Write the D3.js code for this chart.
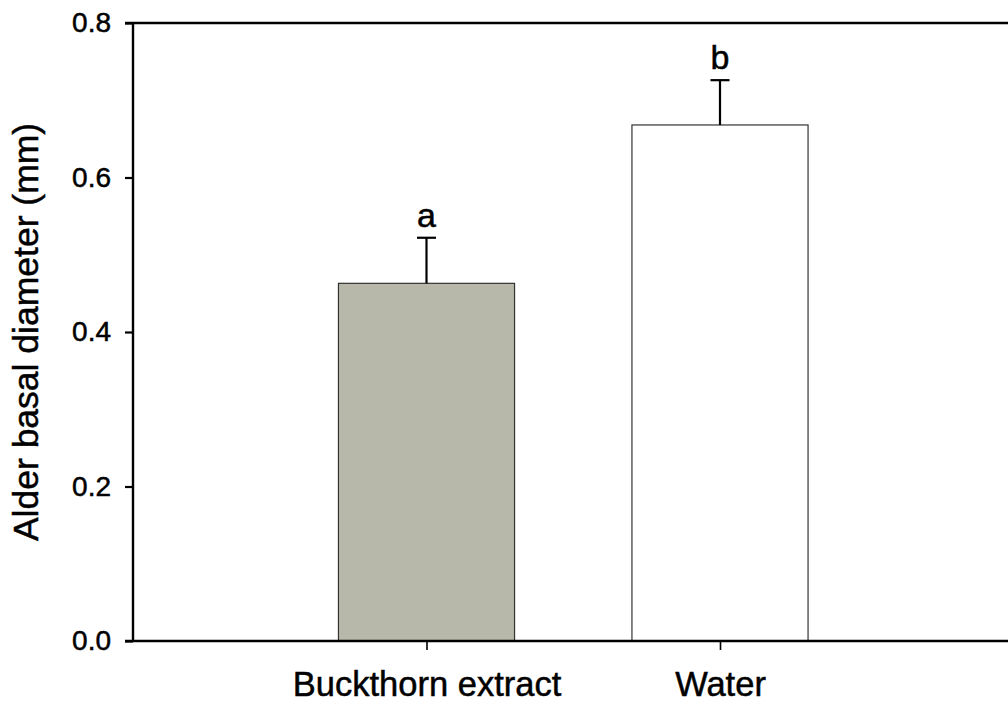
<!DOCTYPE html>
<html>
<head>
<meta charset="utf-8">
<script src="https://cdn.jsdelivr.net/npm/d3@7"></script>
<style>
  html, body { margin: 0; padding: 0; background: #fff; }
  svg { display: block; font-family: "Liberation Sans", Arial, sans-serif; }
  text { stroke: #000; stroke-width: 0.5px; fill: #000; }
</style>
</head>
<body>
<svg id="chart" width="1008" height="705"></svg>
<script>
// Treatments and mean alder basal diameter (mm) with the upper error bar
const categories = ["Buckthorn extract", "Water"];
const means = [0.463, 0.668];
const errors = [0.059, 0.058];
const letters = ["a", "b"];
const fills = ["#b8b8aa", "#ffffff"];
const yTicks = [0.0, 0.2, 0.4, 0.6, 0.8];

const svg = d3.select("#chart");
const plotLeft = 133, plotRight = 1013.5, plotTop = 23, plotBottom = 641;

const x = d3.scalePoint().domain(categories).range([plotLeft, plotRight]).padding(1);
const y = d3.scaleLinear().domain([0, 0.8]).range([plotBottom, plotTop]);
const barW = x.step() * 0.6;

// Bars
svg.selectAll("rect.bar")
  .data(categories)
  .join("rect")
  .attr("class", "bar")
  .attr("x", d => x(d) - barW / 2)
  .attr("y", (d, i) => y(means[i]))
  .attr("width", barW)
  .attr("height", (d, i) => y(0) - y(means[i]))
  .attr("fill", (d, i) => fills[i])
  .attr("stroke", "#333")
  .attr("stroke-width", 1.2);

// Upper error bars
const eb = svg.selectAll("g.err").data(categories).join("g").attr("class", "err");
eb.append("line")
  .attr("x1", d => x(d)).attr("x2", d => x(d))
  .attr("y1", (d, i) => y(means[i]))
  .attr("y2", (d, i) => y(means[i] + errors[i]))
  .attr("stroke", "#000").attr("stroke-width", 2.2);
eb.append("line")
  .attr("x1", d => x(d) - 9.5).attr("x2", d => x(d) + 9.5)
  .attr("y1", (d, i) => y(means[i] + errors[i]))
  .attr("y2", (d, i) => y(means[i] + errors[i]))
  .attr("stroke", "#000").attr("stroke-width", 2.2);

// Significance letters
svg.selectAll("text.letter")
  .data(categories)
  .join("text")
  .attr("class", "letter")
  .attr("x", d => x(d))
  .attr("y", (d, i) => y(means[i] + errors[i]) - 11)
  .attr("text-anchor", "middle")
  .attr("font-size", 34)
  .text((d, i) => letters[i]);

// Frame: top line runs across the plot
svg.append("line").attr("x1", plotLeft - 8).attr("x2", plotRight).attr("y1", plotTop).attr("y2", plotTop)
  .attr("stroke", "#000").attr("stroke-width", 2.4);

// Y axis
const yAxis = d3.axisLeft(y).tickValues(yTicks).tickFormat(d3.format(".1f")).tickSize(8).tickPadding(14);
const gy = svg.append("g").attr("transform", `translate(${plotLeft},0)`).call(yAxis);
gy.select(".domain").attr("stroke-width", 2.4).attr("d", `M0,${plotTop}V${plotBottom}`);
gy.selectAll(".tick line").attr("stroke-width", 2.2);
gy.selectAll(".tick text").attr("font-size", 28).attr("font-family", "Liberation Sans, Arial, sans-serif").attr("fill", "#000");

// X axis
const xAxis = d3.axisBottom(x).tickSize(9).tickPadding(22);
const gx = svg.append("g").attr("transform", `translate(0,${plotBottom})`).call(xAxis);
gx.select(".domain").attr("stroke-width", 2.4).attr("d", `M${plotLeft - 8},0H${plotRight}`);
gx.selectAll(".tick line").attr("stroke-width", 1.6);
gx.selectAll(".tick text").attr("font-size", 34.5).attr("font-family", "Liberation Sans, Arial, sans-serif").attr("fill", "#000");

// Y axis title
svg.append("text")
  .attr("transform", `translate(38,${(plotTop + plotBottom) / 2}) rotate(-90)`)
  .attr("text-anchor", "middle")
  .attr("font-size", 35.5)
  .text("Alder basal diameter (mm)");
</script>
</body>
</html>
